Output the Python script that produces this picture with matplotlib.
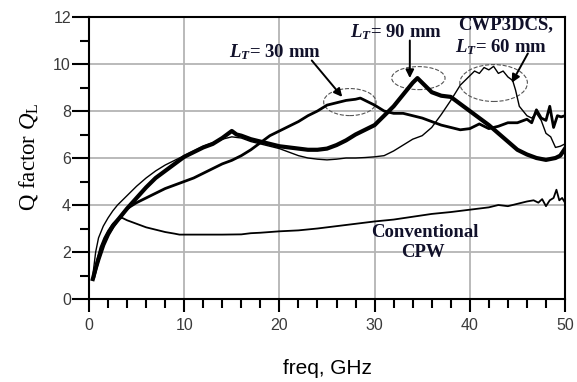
import matplotlib.pyplot as plt
from matplotlib.patches import Ellipse
from matplotlib.ticker import MultipleLocator

plt.rcParams["mathtext.fontset"] = "custom"
plt.rcParams["mathtext.rm"] = "Liberation Serif"
plt.rcParams["mathtext.it"] = "Liberation Serif:italic"
plt.rcParams["mathtext.bf"] = "Liberation Serif:bold:italic"

# --- values (freq in GHz, Q factor) ---
f_cpw = [0.5, 0.8, 1.2, 1.6, 2.0, 2.5, 3.0, 3.5, 4, 5, 6, 7, 8, 9, 9.5, 10,
         12, 14, 16, 17, 18, 20, 22, 24, 26, 28, 30, 32, 34, 36, 38, 40, 42,
         43, 44, 45, 46, 46.7, 47.2, 47.6, 48.0, 48.4, 48.8, 49.1, 49.4, 49.7, 50]
q_cpw = [0.95, 1.6, 2.2, 2.6, 2.9, 3.2, 3.4, 3.45, 3.35, 3.2, 3.05, 2.95,
         2.85, 2.78, 2.74, 2.74, 2.74, 2.74, 2.75, 2.8, 2.82, 2.88, 2.92, 3.0,
         3.1, 3.2, 3.3, 3.38, 3.5, 3.62, 3.7, 3.8, 3.9, 4.0, 3.95, 4.05, 4.15,
         4.2, 4.1, 4.25, 3.95, 4.2, 4.3, 4.65, 4.2, 4.3, 4.1]

f_30 = [0.5, 1, 1.5, 2, 3, 4, 5, 6, 7, 8, 9, 10, 11, 12, 13, 14, 15, 16, 17,
        18, 19, 20, 21, 22, 23, 24, 25, 26, 27, 28, 28.5, 29, 30, 31, 32, 33,
        34, 35, 36, 37, 38, 39, 40, 41, 42, 43, 44, 45, 46, 46.5, 47, 47.5,
        48, 48.4, 48.8, 49.2, 49.6, 50]
q_30 = [0.9, 1.7, 2.3, 2.75, 3.35, 3.85, 4.1, 4.3, 4.5, 4.7, 4.85, 5.0, 5.15,
        5.35, 5.55, 5.75, 5.9, 6.1, 6.35, 6.65, 6.95, 7.15, 7.35, 7.55, 7.8,
        8.0, 8.25, 8.35, 8.45, 8.5, 8.55, 8.45, 8.25, 8.0, 7.9, 7.9, 7.8, 7.7,
        7.55, 7.4, 7.3, 7.2, 7.25, 7.45, 7.25, 7.35, 7.5, 7.5, 7.65, 7.5, 8.05,
        7.7, 7.6, 8.2, 7.3, 7.8, 7.75, 7.8]

f_90 = [0.4, 0.7, 1, 1.5, 2, 2.5, 3, 3.5, 4, 5, 6, 7, 8, 9, 10, 11, 12, 13, 14,
        14.5, 15, 15.5, 16, 17, 18, 19, 20, 21, 22, 23, 24, 25, 26, 27, 28, 29,
        30, 31, 32, 33, 34, 34.5, 35, 36, 37, 38, 39, 40, 41, 42, 43, 44, 45,
        46, 47, 48, 49, 49.5, 50]
q_90 = [0.85, 1.3, 1.7, 2.3, 2.75, 3.1, 3.35, 3.6, 3.85, 4.3, 4.75, 5.15, 5.45,
        5.75, 6.05, 6.25, 6.45, 6.6, 6.85, 7.0, 7.15, 7.0, 6.95, 6.8, 6.7, 6.6,
        6.5, 6.45, 6.4, 6.35, 6.35, 6.4, 6.55, 6.75, 7.0, 7.2, 7.4, 7.8, 8.2,
        8.7, 9.2, 9.4, 9.2, 8.8, 8.65, 8.6, 8.3, 8.0, 7.7, 7.4, 7.05, 6.7, 6.35,
        6.15, 6.0, 5.92, 6.0, 6.1, 6.4]

f_60 = [0.4, 0.7, 1, 1.5, 2, 2.5, 3, 3.5, 4, 5, 6, 7, 8, 9, 10, 11, 12, 13, 14,
        15, 16, 17, 18, 19, 20, 21, 22, 23, 24, 25, 26, 27, 28, 29, 30, 31, 32,
        33, 34, 35, 36, 37, 38, 39, 40, 40.5, 41, 41.5, 42, 42.5, 43, 43.5, 44,
        44.5, 44.8, 45.2, 46, 46.5, 47, 47.5, 48, 48.5, 49, 49.5, 50]
q_60 = [1.0, 2.0, 2.6, 3.1, 3.45, 3.75, 4.0, 4.2, 4.4, 4.8, 5.15, 5.45, 5.7,
        5.9, 6.1, 6.3, 6.5, 6.65, 6.8, 6.9, 6.85, 6.7, 6.6, 6.5, 6.4, 6.25, 6.1,
        6.0, 5.95, 5.92, 5.95, 6.0, 6.0, 6.02, 6.05, 6.1, 6.3, 6.55, 6.8, 6.95,
        7.3, 7.85, 8.45, 9.1, 9.5, 9.7, 9.6, 9.85, 9.75, 9.9, 9.6, 9.7, 9.45,
        9.3, 8.9, 8.2, 7.8, 7.7, 7.9, 7.6, 7.05, 6.9, 6.45, 6.5, 6.6]

fig = plt.figure(figsize=(5.77, 3.82), dpi=100)
ax = fig.add_axes([89 / 577, 1 - 299 / 382, 476 / 577, 282 / 382])

ax.plot(f_cpw, q_cpw, color="black", lw=1.3)
ax.plot(f_60, q_60, color="black", lw=1.0)
ax.plot(f_30, q_30, color="black", lw=2.0)
ax.plot(f_90, q_90, color="black", lw=3.0)

ax.set_xlim(0, 50)
ax.set_ylim(0, 12)
ax.xaxis.set_major_locator(MultipleLocator(10))
ax.xaxis.set_minor_locator(MultipleLocator(2))
ax.yaxis.set_major_locator(MultipleLocator(2))
ax.yaxis.set_minor_locator(MultipleLocator(1))
ax.grid(True, which="major", color="#b4b4b4", lw=1.3)
ax.set_axisbelow(True)
for s in ax.spines.values():
    s.set_linewidth(1.5)
ax.tick_params(axis="x", which="major", length=9, width=1.5, pad=5,
               labelsize=11.5, labelcolor="#3a3a3a")
ax.tick_params(axis="x", which="minor", length=6.5, width=1.5)
ax.tick_params(axis="y", which="major", length=12, width=1.5, pad=1,
               labelsize=11.5, labelcolor="#3a3a3a")
ax.tick_params(axis="y", which="minor", length=6.5, width=1.5)
for lab in ax.get_xticklabels() + ax.get_yticklabels():
    lab.set_family("Liberation Sans")

fig.text(28 / 577, 1 - 157 / 382, r"Q factor $\mathit{Q}_\mathrm{L}$",
         rotation=90, ha="center", va="center", fontsize=16.5,
         family="Liberation Serif")
fig.text(327 / 577, 1 - 368 / 382, "freq, GHz", ha="center", va="center",
         fontsize=15, family="Liberation Sans")

# --- annotations ---
txt = dict(ha="center", va="center", fontsize=13.5, fontweight="bold",
           family="Liberation Serif", color="#11112a")
ax.text(19.5, 10.5, r"$\mathbf{L_T}$= 30 mm", **txt)
ax.text(32.2, 11.36, r"$\mathbf{L_T}$= 90 mm", **txt)
ax.text(43.8, 11.66, "CWP3DCS,", **txt)
ax.text(43.3, 10.72, r"$\mathbf{L_T}$= 60 mm", **txt)
ax.text(35.3, 2.85, "Conventional", **txt)
ax.text(35.1, 1.96, "CPW", **txt)

arrow = dict(arrowstyle="-|>", lw=1.4, color="black", mutation_scale=12,
             shrinkA=0, shrinkB=0)
ax.annotate("", xy=(26.6, 8.6), xytext=(23.4, 10.15), arrowprops=arrow)
ax.annotate("", xy=(33.7, 9.4), xytext=(33.7, 11.0), arrowprops=arrow)
ax.annotate("", xy=(44.4, 9.2), xytext=(46.1, 10.45), arrowprops=arrow)

for cx, cy, w, h in [(27.4, 8.38, 5.5, 1.15), (34.6, 9.4, 5.6, 0.98),
                     (42.5, 9.19, 7.1, 1.57)]:
    ax.add_patch(Ellipse((cx, cy), w, h, fill=False, ls="--", lw=0.8,
                         edgecolor="#555555"))

fig.savefig("out.png", dpi=100)
